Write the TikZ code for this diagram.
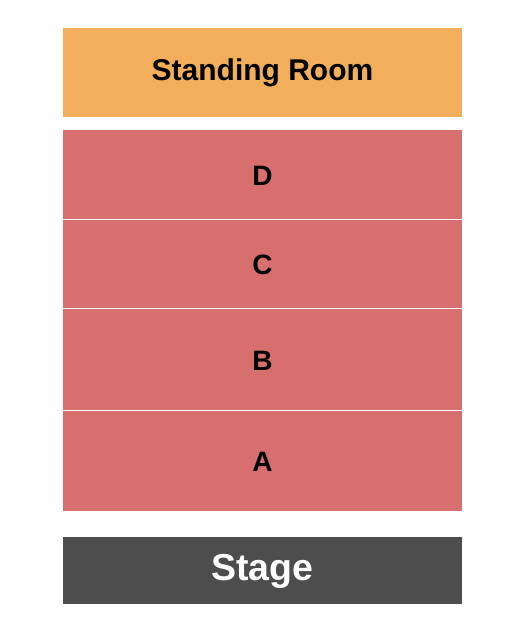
\documentclass[tikz,border=0pt]{standalone}
\usepackage{fontspec}
\setmainfont{Liberation Sans}
\definecolor{sroom}{HTML}{F3AE5B}
\definecolor{sect}{HTML}{D66F6D}
\definecolor{stagec}{HTML}{4D4D4D}
\begin{document}
\begin{tikzpicture}[x=1pt,y=-1pt,
  zone/.style={rectangle, inner sep=0pt, outer sep=0pt, minimum width=399pt, anchor=north west, font=\bfseries\fontsize{28}{28}\selectfont, text=black},
  letter/.style={zone, fill=sect},
  lab/.style={inner sep=0pt, font=\bfseries\fontsize{28}{28}\selectfont},
  sep/.style={draw=white, line width=1pt}]
\useasboundingbox (0,0) rectangle (525,625);
\node[zone, fill=sroom, minimum height=89pt, font=\bfseries\fontsize{30}{30}\selectfont] (sr) at (63,28) {Standing Room};
\node[letter, minimum height=89pt] (d) at (63,130) {};
\node[letter, minimum height=89pt] (c) at (63,219) {};
\node[letter, minimum height=102pt] (b) at (63,308) {};
\node[letter, minimum height=101pt] (a) at (63,410) {};
\node[lab] (dl) at ([yshift=-1.5pt]d.center) {D};
\node[lab] (cl) at ([yshift=-1.5pt]c.center) {C};
\node[lab] (bl) at ([yshift=-1.5pt]b.center) {B};
\node[lab] (al) at ([yshift=-1.5pt]a.center) {A};
\node[zone, fill=stagec, minimum height=67pt] (st) at (63,537) {};
\node[lab, text=white, font=\bfseries\fontsize{37.5}{37.5}\selectfont] (stl) at ([yshift=-1pt]st.center) {Stage};
\draw[sep] (d.south west) -- (d.south east);
\draw[sep] (c.south west) -- (c.south east);
\draw[sep] (b.south west) -- (b.south east);
\end{tikzpicture}
\end{document}
